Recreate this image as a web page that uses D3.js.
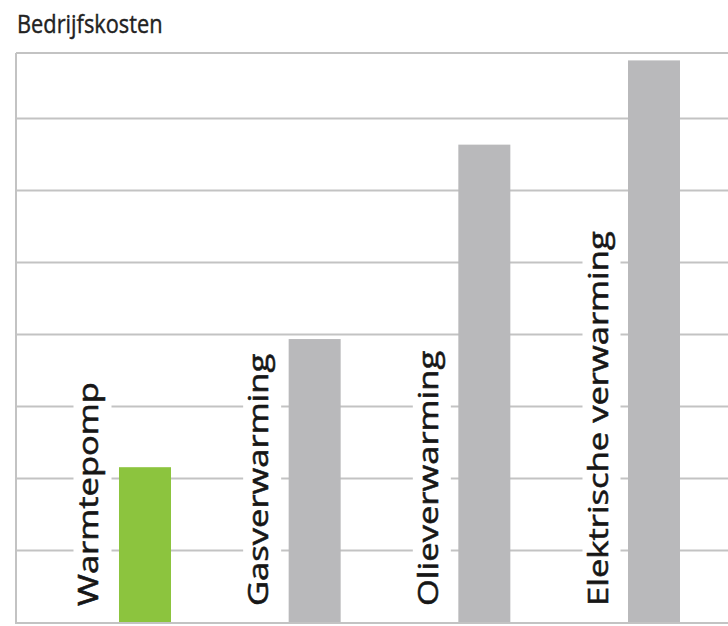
<!DOCTYPE html>
<html>
<head>
<meta charset="utf-8">
<script src="https://cdn.jsdelivr.net/npm/d3@7"></script>
<style>
  html, body { margin: 0; padding: 0; background: #fff; }
  svg { display: block; }
</style>
</head>
<body>
<svg id="chart" width="728" height="626"></svg>
<script>
// ---- data ----
const title = "Bedrijfskosten";
const categories = ["Warmtepomp", "Gasverwarming", "Olieverwarming", "Elektrische verwarming"];
const values = [2.15, 3.93, 6.63, 7.8];
const highlight = ["Warmtepomp"];
const gridValues = [1, 2, 3, 4, 5, 6, 7];

// ---- layout ----
const W = 728, H = 626;
const left = 17, right = 728, bottom = 622, frameTop = 53;
const svg = d3.select("#chart");

const x = d3.scaleBand().domain(categories)
  .range([left, right]).paddingInner(0.6935).paddingOuter(0.442).align(0.68);
const y = d3.scaleLinear().domain([0, 8]).range([bottom, bottom - 8 * 72]);

const gridColor = "#c3c3c3";

// gridlines via axis
const grid = svg.append("g").attr("transform", `translate(${left},0)`)
  .call(d3.axisLeft(y).tickValues(gridValues).tickSize(-(right - left)).tickFormat(""));
grid.select(".domain").remove();
grid.selectAll(".tick line").attr("stroke", gridColor).attr("stroke-width", 2);

// frame: top, left, bottom
svg.append("line").attr("x1", left - 1).attr("x2", right).attr("y1", frameTop).attr("y2", frameTop)
  .attr("stroke", gridColor).attr("stroke-width", 2);
svg.append("line").attr("x1", left - 1).attr("x2", right).attr("y1", bottom + 1).attr("y2", bottom + 1)
  .attr("stroke", gridColor).attr("stroke-width", 2);
svg.append("line").attr("x1", left - 1).attr("x2", left - 1).attr("y1", frameTop).attr("y2", bottom + 2)
  .attr("stroke", gridColor).attr("stroke-width", 2);

// labels with white backing boxes
const fontSize = 27, stretch = 1.28;
const labels = svg.append("g");
categories.forEach((c, i) => {
  const bx = x(c) - 20.5, by = 606;
  const g = labels.append("g")
    .attr("transform", `translate(${bx},${by}) rotate(-90) scale(${stretch},1)`);
  const t = g.append("text")
    .attr("x", 0).attr("y", 0)
    .attr("font-family", "'Open Sans', sans-serif")
    .attr("font-size", fontSize)
    .attr("fill", "#161616")
    .attr("stroke", "#161616")
    .attr("stroke-width", 0.55)
    .text(c);
  const len = t.node().getComputedTextLength();
  const extra = i === 0 ? 45 : 6;
  g.insert("rect", "text")
    .attr("x", -2).attr("y", -25)
    .attr("width", len + extra / stretch)
    .attr("height", 38)
    .attr("fill", "#fff");
});

// bars
svg.append("g").selectAll("rect").data(categories).join("rect")
  .attr("x", d => x(d))
  .attr("width", x.bandwidth())
  .attr("y", (d, i) => y(values[i]))
  .attr("height", (d, i) => y(0) - y(values[i]))
  .attr("fill", d => highlight.includes(d) ? "#8cc43e" : "#b9b9bb");

// title
svg.append("text")
  .attr("transform", "translate(17,33) scale(1,1.15)")
  .attr("font-family", "'Open Sans', sans-serif")
  .attr("font-size", 21.8)
  .attr("fill", "#222")
  .attr("stroke", "#222")
  .attr("stroke-width", 0.35)
  .text(title);
</script>
</body>
</html>
